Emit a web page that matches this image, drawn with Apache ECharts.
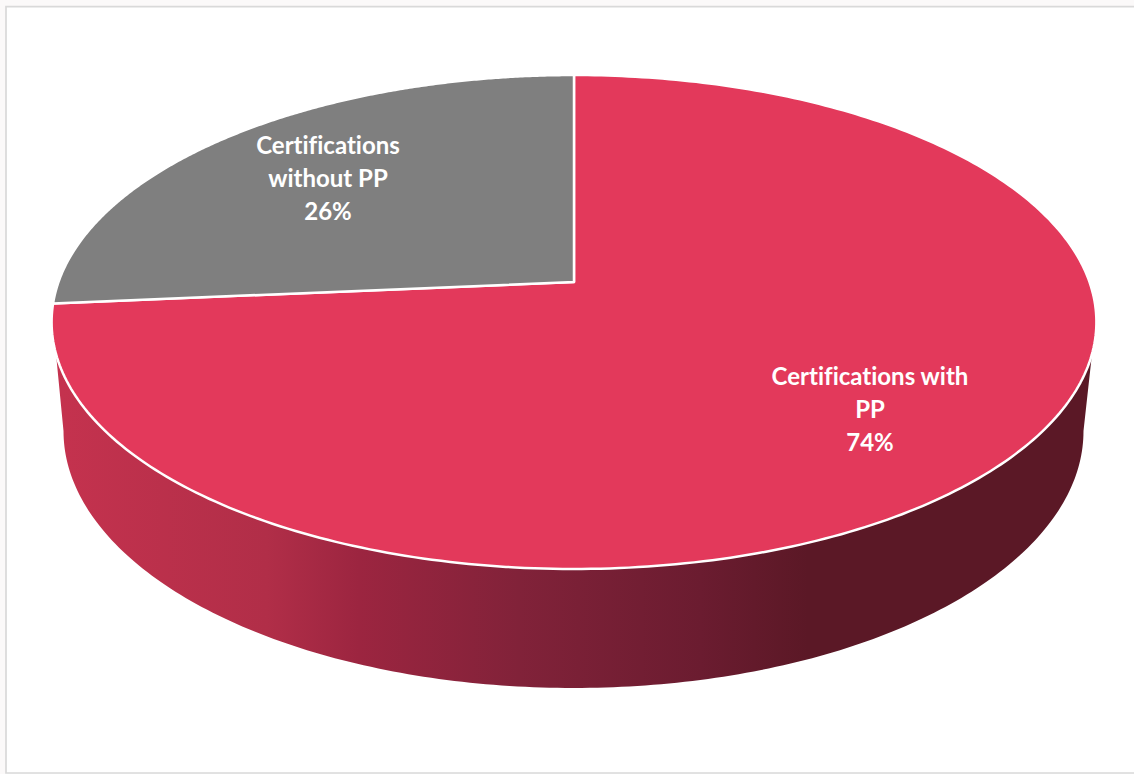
<!DOCTYPE html>
<html>
<head>
<meta charset="utf-8">
<style>html,body{margin:0;padding:0;background:#fbf9f9}#c{width:1134px;height:774px}#c text{font-variant-ligatures:none !important;font-feature-settings:"liga" 0,"clig" 0 !important}</style>
<script src="https://cdn.jsdelivr.net/npm/echarts@6/dist/echarts.min.js"></script>
</head>
<body>
<div id="c"></div>
<script>
const categories = ['Certifications with\nPP', 'Certifications without PP'];
const labelLines = ['Certifications with\nPP', 'Certifications\nwithout PP'];
const values = [73.6, 26.4];
const colors = ['#e3395b', '#7f7f7f'];
const labelAnchors = [[870, 408], [328, 177]];

const total = values.reduce((a, b) => a + b, 0);
const DEG = Math.PI / 180;
// perspective projection of the pie's top disc: apex (574,282)
const k = 0.162, A = 240.5, B = 515.5, X0 = 574, Y0 = 282;
function discPoint(t) {
  const u = Math.sin(t * DEG), v = Math.cos(t * DEG), w = 1 + k * v;
  return [X0 + B * u / w, Y0 - A * v / w];
}
// lower rim of the pie
const BX = 573.5, BY = 431, BRX = 510, BRY = 257;
function rimPoint(t) {
  return [BX + BRX * Math.sin(t * DEG), BY - BRY * Math.cos(t * DEG)];
}
const SIDE_FROM = 106.6, SIDE_TO = 253.4;
const sideFill = new echarts.graphic.LinearGradient(63, 0, 1083, 0, [
  { offset: 0, color: '#c4324e' },
  { offset: 0.2, color: '#b12e48' },
  { offset: 0.29, color: '#9c2540' },
  { offset: 0.448, color: '#812239' },
  { offset: 0.625, color: '#6b1c30' },
  { offset: 0.73, color: '#5b1826' },
  { offset: 1, color: '#5b1826' }
], true);

function renderItem(params, api) {
  const i = params.dataIndex;
  let before = 0;
  for (let j = 0; j < i; j++) before += values[j];
  const a0 = before / total * 360;
  const a1 = (before + api.value(0)) / total * 360;
  const children = [];

  const s0 = Math.max(a0, SIDE_FROM), s1 = Math.min(a1, SIDE_TO);
  if (s1 > s0) {
    const pts = [];
    for (let n = 0; n <= 200; n++) pts.push(discPoint(s0 + (s1 - s0) * n / 200));
    const r0 = s0 === SIDE_FROM ? 90 : s0, r1 = s1 === SIDE_TO ? 270 : s1;
    for (let n = 200; n >= 0; n--) pts.push(rimPoint(r0 + (r1 - r0) * n / 200));
    children.push({ type: 'polygon', shape: { points: pts }, style: { fill: sideFill } });
  }

  const face = [[X0, Y0]];
  for (let n = 0; n <= 300; n++) face.push(discPoint(a0 + (a1 - a0) * n / 300));
  children.push({
    type: 'polygon', shape: { points: face },
    style: { fill: colors[i], stroke: '#ffffff', lineWidth: 2.5, lineJoin: 'round' }
  });

  children.push({
    type: 'text', z2: 10,
    style: {
      x: labelAnchors[i][0], y: labelAnchors[i][1],
      text: labelLines[i] + '\n' + Math.round(api.value(0) / total * 100) + '%',
      align: 'center', verticalAlign: 'middle',
      fill: '#ffffff', font: 'bold 24px Lato', lineHeight: 33
    }
  });
  return { type: 'group', children };
}

const chart = echarts.init(document.getElementById('c'), null, { renderer: 'svg' });
chart.setOption({
  animation: false,
  backgroundColor: 'transparent',
  graphic: [{
    type: 'rect', z: -1,
    shape: { x: 6, y: 6.7, width: 1300, height: 766.3 },
    style: { fill: '#ffffff', stroke: '#d9d9d9', lineWidth: 1.7 }
  }],
  series: [{
    type: 'custom',
    coordinateSystem: 'none',
    renderItem,
    data: categories.map((name, i) => ({ name, value: [values[i]] }))
  }]
});
</script>
</body>
</html>
